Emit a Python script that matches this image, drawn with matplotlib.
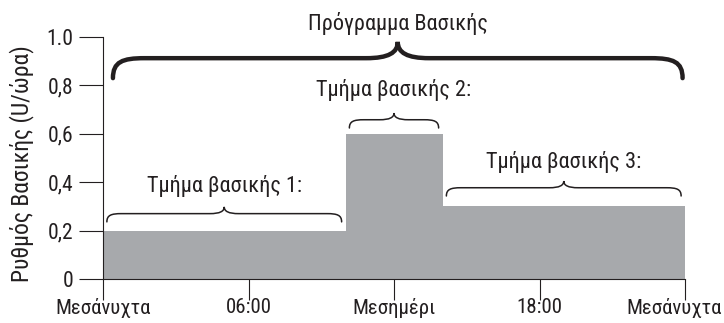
import matplotlib.pyplot as plt
from matplotlib.path import Path
from matplotlib.patches import PathPatch
from matplotlib.transforms import ScaledTranslation
from matplotlib import font_manager

# basal rate segments (hours, U/h)
seg_starts = [0, 10, 14]
seg_ends = [10, 14, 24]
seg_rates = [0.2, 0.6, 0.3]
seg_labels = ['Τμήμα βασικής 1:', 'Τμήμα βασικής 2:', 'Τμήμα βασικής 3:']

x_ticks = [0, 6, 12, 18, 24]
x_ticklabels = ['Μεσάνυχτα', '06:00', 'Μεσημέρι', '18:00', 'Μεσάνυχτα']
y_ticks = [0, 0.2, 0.4, 0.6, 0.8, 1.0]
y_ticklabels = ['0', '0,2', '0,4', '0,6', '0,8', '1.0']

title = 'Πρόγραμμα Βασικής'
ylabel = 'Ρυθμός Βασικής (U/ώρα)'

# pick a narrow face if one is installed
fonts = font_manager.fontManager.ttflist
names = {f.name for f in fonts}
stretch = 'normal'
fam = 'Roboto'
for cand in ['Liberation Sans Narrow', 'Roboto Condensed', 'Open Sans Condensed',
             'Noto Sans Condensed', 'DejaVu Sans Condensed']:
    if cand in names:
        fam = cand
        break
else:
    for f in fonts:
        if f.name in ('DejaVu Sans', 'Noto Sans', 'Open Sans') and \
                str(f.stretch) in ('condensed', 'semi-condensed', '75', '87.5') \
                and f.style == 'normal':
            fam, stretch = f.name, f.stretch
            break
plt.rcParams['font.family'] = [fam, 'DejaVu Sans']
plt.rcParams['font.stretch'] = stretch

GRAY = '#a7a9ac'
INK = '#231f20'
FS = 16


def brace(ax, x0, x1, y0, h, q, lw):
    # curly brace pointing up, ends at y0, tip at y0+h
    xm = (x0 + x1) / 2
    yb = y0 + h * 0.55
    verts = [
        (x0, y0),
        (x0, y0 + h * 0.45), (x0 + q * 0.3, yb), (x0 + q, yb),
        (xm - q, yb),
        (xm - q * 0.3, yb), (xm, y0 + h * 0.7), (xm, y0 + h),
        (xm, y0 + h * 0.7), (xm + q * 0.3, yb), (xm + q, yb),
        (x1 - q, yb),
        (x1 - q * 0.3, yb), (x1, y0 + h * 0.45), (x1, y0),
    ]
    codes = [Path.MOVETO,
             Path.CURVE4, Path.CURVE4, Path.CURVE4,
             Path.LINETO,
             Path.CURVE4, Path.CURVE4, Path.CURVE4,
             Path.CURVE4, Path.CURVE4, Path.CURVE4,
             Path.LINETO,
             Path.CURVE4, Path.CURVE4, Path.CURVE4]
    p = PathPatch(Path(verts, codes), fill=False, lw=lw, ec=INK,
                  capstyle='round', clip_on=False)
    ax.add_patch(p)
    return xm, y0 + h


fig = plt.figure(figsize=(7.24, 3.23), dpi=100)
ax = fig.add_axes([103 / 724, 44 / 323, 582 / 724, 242 / 323])

xs = seg_starts + [seg_ends[-1]]
ys = seg_rates + [seg_rates[-1]]
ax.fill_between(xs, ys, step='post', color=GRAY, lw=0)

ax.set_xlim(0, 24)
ax.set_ylim(0, 1.0)
for s in ['top', 'right']:
    ax.spines[s].set_visible(False)
for s in ['left', 'bottom']:
    ax.spines[s].set_linewidth(0.8)
    ax.spines[s].set_color(INK)

ax.set_xticks(x_ticks)
ax.set_xticklabels(x_ticklabels)
ax.set_yticks(y_ticks)
ax.set_yticklabels(y_ticklabels)
ax.tick_params(axis='y', length=17, width=0.8, color=INK, pad=4.5,
               labelsize=FS - 0.5, labelcolor=INK)
ax.tick_params(axis='x', length=15, width=0.8, color=INK, pad=-1.5,
               labelsize=FS - 1, labelcolor=INK)
# last label sits a little left of its tick, as in the original
last = ax.get_xticklabels()[-1]
last.set_transform(last.get_transform() + ScaledTranslation(-11 / 100, 0, fig.dpi_scale_trans))

ax.set_ylabel(ylabel, fontsize=17, color=INK)
ax.yaxis.set_label_coords(-0.118, 0.475)

# segment braces and labels
bases = [0.236, 0.624, 0.343]
label_y = [0.36, 0.755, 0.459]
for a, b, base, ly, lab in zip(seg_starts, seg_ends, bases, label_y, seg_labels):
    xm, _ = brace(ax, a + 0.16, b - 0.16, base, 0.062, 0.6, 1.1)
    ax.text(xm, ly, lab, ha='center', va='baseline', fontsize=FS, color=INK)

# whole program brace
xm, _ = brace(ax, seg_starts[0] + 0.41, seg_ends[-1] - 0.1, 0.83, 0.15, 1.3, 3.2)
ax.text(xm, 1.029, title, ha='center', va='baseline', fontsize=FS, color=INK,
        clip_on=False)

fig.savefig('out.png', dpi=100)
